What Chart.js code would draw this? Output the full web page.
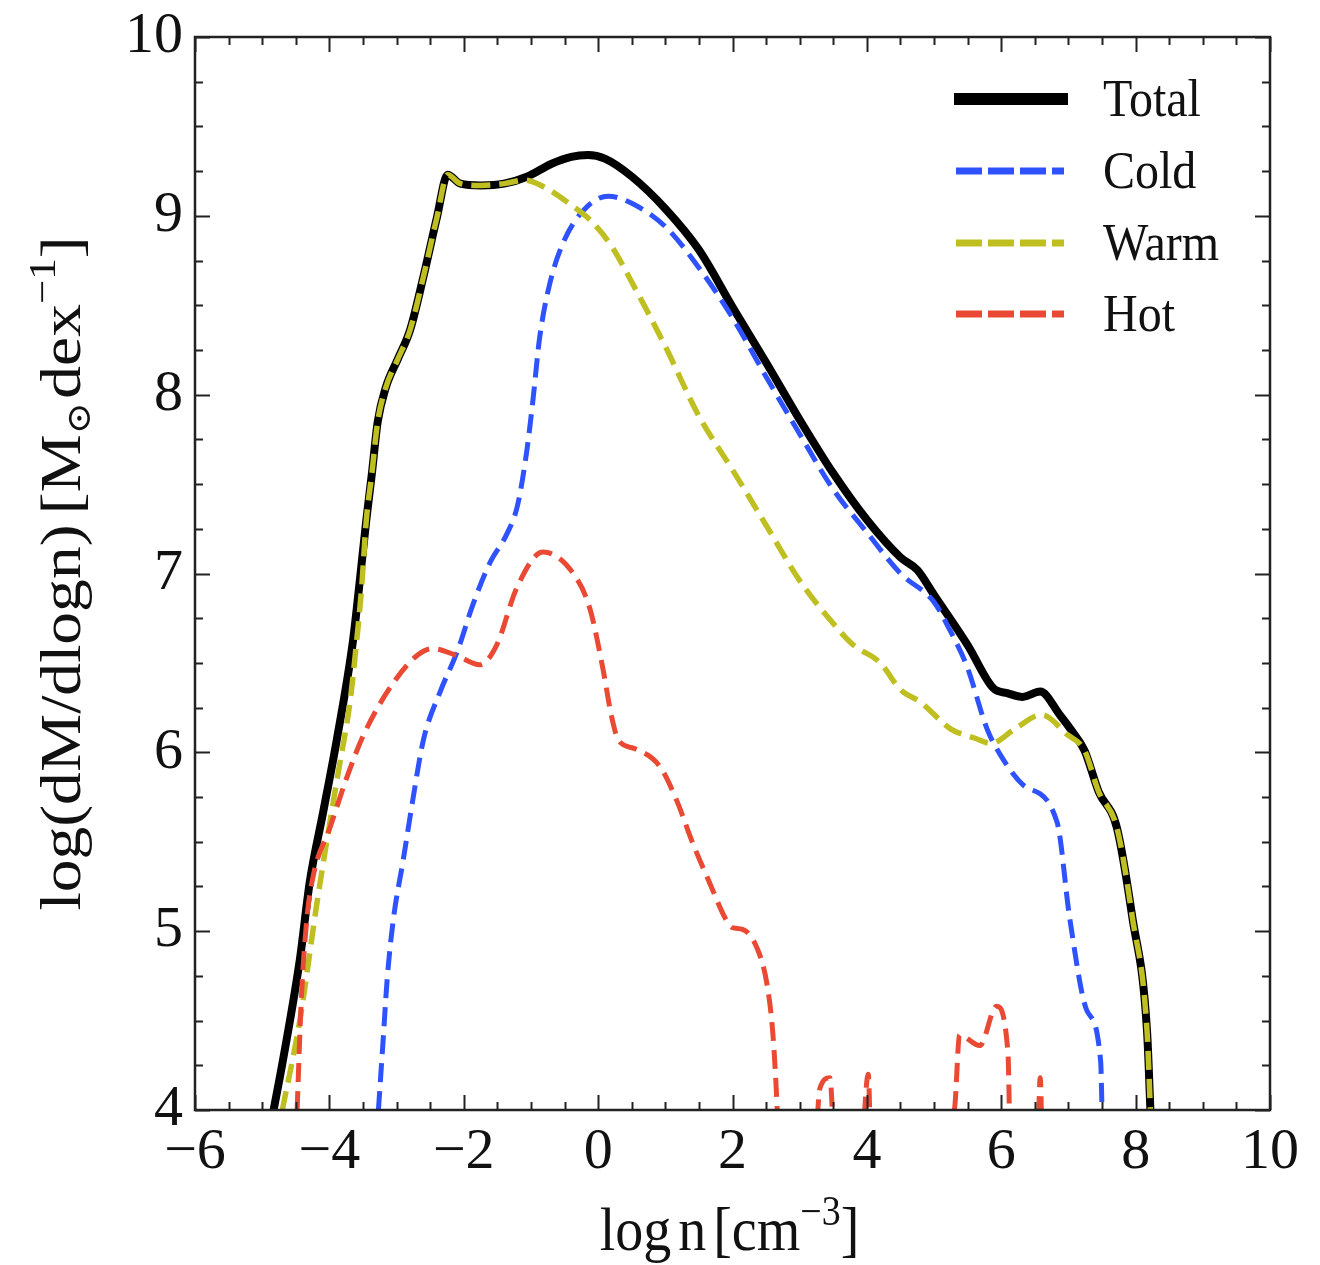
<!DOCTYPE html>
<html>
<head>
<meta charset="utf-8">
<script src="https://cdn.jsdelivr.net/npm/chart.js@4.4.0/dist/chart.umd.min.js"></script>
<style>
  html, body { margin: 0; padding: 0; background: #fff; }
  #wrap { width: 1320px; height: 1265px; position: relative; }
</style>
</head>
<body>
<div id="wrap"><canvas id="densityChart"></canvas></div>
<script>
// values: log n [cm^-3] vs log(dM/dlogn)
const totalX = [-4.83, -4.69, -4.44, -4.29, -4.09, -3.89, -3.65, -3.55, -3.45, -3.37, -3.28, -3.16, -2.98, -2.8, -2.6, -2.4, -2.24, -2.05, -1.75, -1.4, -1.05, -0.7, -0.4, -0.15, 0.1, 0.5, 1.0, 1.5, 2.0, 2.5, 3.0, 3.5, 4.0, 4.5, 4.75, 5.0, 5.5, 5.88, 6.1, 6.32, 6.58, 6.87, 7.05, 7.24, 7.45, 7.72, 7.95, 8.17, 8.22];
const totalY = [4.0, 4.28, 4.84, 5.28, 5.67, 6.07, 6.62, 6.95, 7.3, 7.55, 7.85, 8.04, 8.2, 8.36, 8.66, 8.99, 9.23, 9.18, 9.17, 9.18, 9.22, 9.29, 9.33, 9.34, 9.32, 9.22, 9.04, 8.81, 8.49, 8.18, 7.86, 7.56, 7.30, 7.09, 7.02, 6.88, 6.6, 6.36, 6.33, 6.31, 6.34, 6.21, 6.12, 6.01, 5.78, 5.58, 5.08, 4.44, 4.0];

const coldX = [-3.27, -3.2, -3.14, -3.05, -2.9, -2.76, -2.6, -2.35, -2.1, -1.86, -1.61, -1.36, -1.2, -1.06, -0.97, -0.87, -0.72, -0.52, -0.22, 0.15, 0.5, 1.0, 1.5, 2.0, 2.5, 3.0, 3.5, 4.0, 4.5, 5.0, 5.24, 5.49, 5.79, 5.98, 6.32, 6.83, 7.02, 7.27, 7.48, 7.5];
const coldY = [4.0, 4.39, 4.73, 5.06, 5.4, 5.73, 6.07, 6.34, 6.56, 6.83, 7.06, 7.22, 7.38, 7.69, 7.97, 8.32, 8.62, 8.85, 9.03, 9.11, 9.07, 8.94, 8.71, 8.43, 8.10, 7.78, 7.47, 7.23, 7.0, 6.84, 6.68, 6.48, 6.13, 5.99, 5.82, 5.61, 5.07, 4.56, 4.27, 4.0];

const warmX = [-4.7, -4.44, -4.18, -3.89, -3.69, -3.6, -3.52, -3.45, -3.37, -3.28, -3.16, -2.98, -2.8, -2.6, -2.4, -2.24, -2.05, -1.75, -1.4, -1.1, -0.75, -0.4, -0.1, 0.2, 0.5, 1.0, 1.5, 2.0, 2.5, 3.0, 3.5, 3.8, 4.2, 4.5, 4.8, 5.25, 5.6, 5.85, 6.2, 6.6, 6.98, 7.24, 7.45, 7.72, 7.95, 8.17, 8.22];
const warmY = [4.0, 4.5, 5.17, 5.84, 6.29, 6.6, 6.92, 7.3, 7.55, 7.85, 8.04, 8.2, 8.36, 8.66, 8.99, 9.23, 9.18, 9.17, 9.18, 9.2, 9.15, 9.06, 8.97, 8.83, 8.63, 8.27, 7.88, 7.58, 7.27, 6.96, 6.72, 6.6, 6.5, 6.35, 6.28, 6.13, 6.08, 6.05, 6.13, 6.21, 6.1, 6.01, 5.78, 5.58, 5.08, 4.44, 4.0];

// hot drops below the axis floor in places; the chart clips those parts
const hotX = [-4.48, -4.42, -4.34, -4.24, -3.99, -3.74, -3.5, -3.1, -2.7, -2.46, -2.1, -1.76, -1.51, -1.21, -0.82, -0.37, -0.12, 0.07, 0.2, 0.3, 0.55, 0.92, 1.17, 1.41, 1.66, 1.91, 2.0, 2.15, 2.36, 2.51, 2.6, 2.66, 2.72, 3.2, 3.3, 3.45, 3.52, 3.9, 4.02, 4.08, 4.9, 5.1, 5.3, 5.38, 5.68, 5.93, 6.1, 6.15, 6.52, 6.58, 6.62];
const hotY = [4.0, 4.6, 5.05, 5.31, 5.58, 5.86, 6.09, 6.36, 6.54, 6.58, 6.54, 6.49, 6.6, 6.92, 7.12, 7.0, 6.8, 6.47, 6.2, 6.07, 6.02, 5.92, 5.73, 5.49, 5.27, 5.06, 5.02, 5.01, 4.91, 4.71, 4.43, 4.05, 3.5, 3.6, 4.12, 4.18, 3.8, 3.7, 4.2, 3.5, 3.6, 3.95, 4.0, 4.42, 4.36, 4.58, 4.32, 3.5, 3.5, 4.18, 3.5];

const seriesNames = ['Total', 'Cold', 'Warm', 'Hot'];
const seriesColors = ['#000000', '#2f52ff', '#bfbf22', '#ea4a34'];
const xTicks = [-6, -4, -2, 0, 2, 4, 6, 8, 10];
const yTicks = [4, 5, 6, 7, 8, 9, 10];

const SERIF = '"Liberation Serif", "DejaVu Serif", "Times New Roman", serif';

const pts = (xs, ys) => xs.map((v, i) => ({ x: v, y: ys[i] }));
const fmt = v => String(v).replace('-', '\u2212');

// draws a run of text pieces (super/subscripts) centred on cx,cy
function richText(ctx, parts, cx, cy, angle, sx, sy) {
  ctx.save();
  ctx.translate(cx, cy);
  ctx.rotate(angle);
  ctx.scale(sx, sy);
  ctx.textBaseline = 'alphabetic';
  ctx.textAlign = 'left';
  ctx.fillStyle = '#111';
  let w = 0;
  parts.forEach(p => {
    ctx.font = p.size + 'px ' + SERIF;
    p.w = ctx.measureText(p.t).width + (p.gap || 0);
    w += p.w;
  });
  let x = -w / 2;
  parts.forEach(p => {
    ctx.font = p.size + 'px ' + SERIF;
    ctx.fillText(p.t, x, p.dy || 0);
    x += p.w;
  });
  ctx.restore();
}

const frameTicks = {
  id: 'frameTicks',
  afterDatasetsDraw(chart) {
    const { ctx, chartArea: a, scales: { x, y } } = chart;
    ctx.save();
    ctx.strokeStyle = '#222';
    ctx.lineWidth = 2;
    ctx.beginPath();
    for (let v = x.min; v <= x.max + 1e-9; v += 0.5) {
      const px = Math.round(x.getPixelForValue(v)) + 0.5;
      const len = Math.abs(v % 2) < 1e-9 ? 15 : 8;
      ctx.moveTo(px, a.bottom); ctx.lineTo(px, a.bottom - len);
      ctx.moveTo(px, a.top); ctx.lineTo(px, a.top + len);
    }
    for (let v = y.min; v <= y.max + 1e-9; v += 0.25) {
      const py = Math.round(y.getPixelForValue(v)) + 0.5;
      const len = Math.abs(v % 1) < 1e-9 ? 15 : 8;
      ctx.moveTo(a.left, py); ctx.lineTo(a.left + len, py);
      ctx.moveTo(a.right, py); ctx.lineTo(a.right - len, py);
    }
    ctx.stroke();
    ctx.lineWidth = 2.5;
    ctx.strokeRect(a.left, a.top, a.right - a.left, a.bottom - a.top);
    ctx.restore();
  },
  afterDraw(chart) {
    const { ctx, chartArea: a } = chart;
    // axis titles
    richText(ctx, [
      { t: 'log', size: 56, gap: 7 },
      { t: 'n', size: 56, gap: 7 },
      { t: '[cm', size: 56 },
      { t: '\u22123', size: 38, dy: -23 },
      { t: ']', size: 56 }
    ], (a.left + a.right) / 2 - 3, 1250, 0, 1, 1.1);
    richText(ctx, [
      { t: 'log(dM/dlogn)', size: 58, gap: 9 },
      { t: '[M', size: 58 },
      { t: '\u2299', size: 34, dy: 10, gap: 3 },
      { t: 'dex', size: 58 },
      { t: '\u22121', size: 38, dy: -25 },
      { t: ']', size: 58 }
    ], 80, (a.top + a.bottom) / 2, -Math.PI / 2, 1.13, 1);

    // legend, top right inside the frame
    const lx0 = a.right - 314, lx1 = a.right - 206, tx = a.right - 167;
    const rowY = [62, 134, 206, 277];
    chart.data.datasets.forEach((ds, i) => {
      const yy = a.top + rowY[i];
      ctx.save();
      ctx.strokeStyle = ds.borderColor;
      ctx.lineWidth = i === 0 ? 12 : 7;
      ctx.setLineDash(i === 0 ? [] : [26, 6]);
      ctx.beginPath();
      ctx.moveTo(i === 0 ? lx0 - 2 : lx0, yy);
      ctx.lineTo(i === 0 ? lx1 + 4 : lx1, yy);
      ctx.stroke();
      ctx.restore();
      ctx.save();
      ctx.translate(tx, yy + 17);
      ctx.scale(1, 1.1);
      ctx.font = '48px ' + SERIF;
      ctx.fillStyle = '#111';
      ctx.textBaseline = 'alphabetic';
      ctx.fillText(ds.label, 0, 0);
      ctx.restore();
    });
  }
};

const dashed = [19, 9];

new Chart(document.getElementById('densityChart'), {
  type: 'line',
  data: {
    datasets: [
      { label: seriesNames[0], data: pts(totalX, totalY), borderColor: seriesColors[0], borderWidth: 8, order: 3 },
      { label: seriesNames[1], data: pts(coldX, coldY), borderColor: seriesColors[1], borderWidth: 5, borderDash: dashed, order: 2 },
      { label: seriesNames[2], data: pts(warmX, warmY), borderColor: seriesColors[2], borderWidth: 5.5, borderDash: dashed, order: 1 },
      { label: seriesNames[3], data: pts(hotX, hotY), borderColor: seriesColors[3], borderWidth: 5, borderDash: dashed, order: 0 }
    ]
  },
  options: {
    responsive: true,
    maintainAspectRatio: false,
    animation: false,
    events: [],
    layout: { padding: { top: 37, right: 50, left: 0, bottom: 0 } },
    plugins: { legend: { display: false }, tooltip: { enabled: false } },
    elements: {
      point: { radius: 0 },
      line: { cubicInterpolationMode: 'monotone', fill: false, borderCapStyle: 'butt', borderJoinStyle: 'round' }
    },
    datasets: { line: { clip: 0 } },
    scales: {
      x: {
        type: 'linear', min: xTicks[0], max: xTicks[xTicks.length - 1],
        grid: { display: false, drawTicks: false }, border: { display: false },
        afterBuildTicks: s => { s.ticks = xTicks.map(v => ({ value: v })); },
        ticks: { padding: 8, color: '#111', maxRotation: 0, autoSkip: false,
                 font: { family: SERIF, size: 58 }, callback: v => fmt(v) },
        afterFit: s => { s.height = 155; s.paddingLeft = 0; s.paddingRight = 0; }
      },
      y: {
        type: 'linear', min: yTicks[0], max: yTicks[yTicks.length - 1],
        grid: { display: false, drawTicks: false }, border: { display: false },
        afterBuildTicks: s => { s.ticks = yTicks.map(v => ({ value: v })); },
        ticks: { padding: 12, color: '#111', autoSkip: false,
                 font: { family: SERIF, size: 58 }, callback: v => fmt(v) },
        afterFit: s => { s.width = 195; s.paddingTop = 0; s.paddingBottom = 0; }
      }
    }
  },
  plugins: [frameTicks]
});
</script>
</body>
</html>
